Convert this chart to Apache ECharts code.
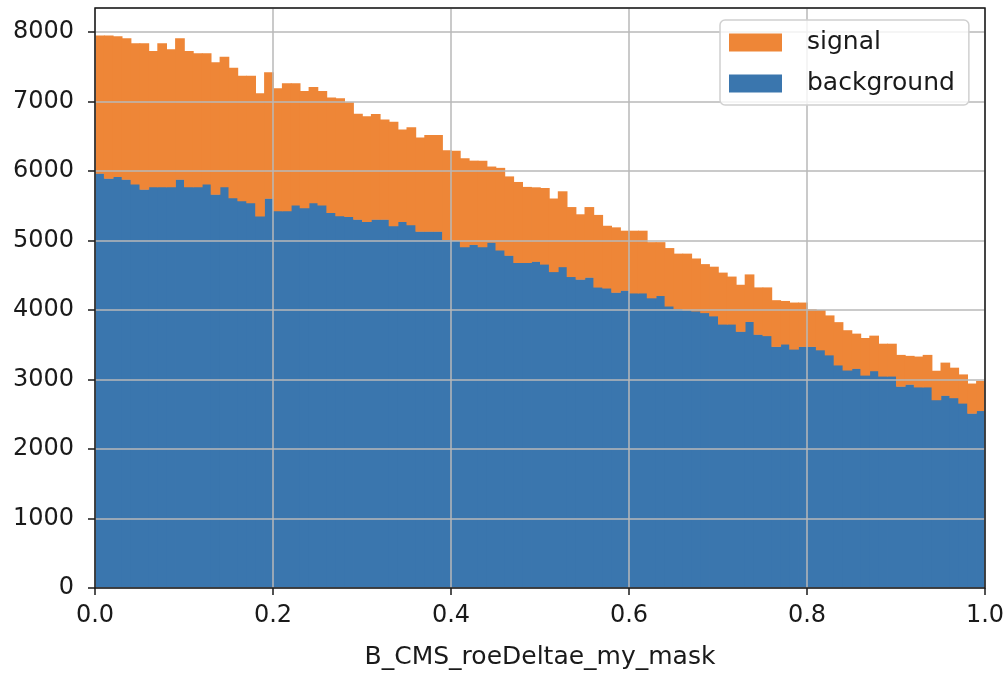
<!DOCTYPE html>
<html>
<head>
<meta charset="utf-8">
<script src="https://cdn.jsdelivr.net/npm/echarts@6/dist/echarts.min.js"></script>
<style>
  html, body { margin: 0; padding: 0; background: #fff; }
  #main { width: 1008px; height: 684px; }
</style>
</head>
<body>
<div id="main"></div>
<script>
// 100 equal bins over [0, 1]: 101 bin edges
var binEdges = [];
for (var i = 0; i <= 100; i++) { binEdges.push(i / 100); }

var xTicks = ['0.0', '0.2', '0.4', '0.6', '0.8', '1.0'];

// counts, bin by bin
var background = [
    5967, 5895, 5920, 5880, 5813, 5737, 5774, 5774, 5774, 5880,
    5774, 5774, 5813, 5665, 5774, 5616, 5573, 5544, 5353, 5607,
    5429, 5429, 5511, 5472, 5544, 5511, 5402, 5355, 5345, 5307,
    5274, 5307, 5307, 5213, 5274, 5227, 5132, 5132, 5132, 5014,
    5000, 4910, 4943, 4910, 4976, 4863, 4787, 4683, 4683, 4700,
    4660, 4552, 4623, 4481, 4443, 4472, 4330, 4316, 4255, 4283,
    4245, 4245, 4175, 4208, 4057, 4019, 4000, 3986, 3962, 3915,
    3797, 3797, 3693, 3835, 3650, 3631, 3476, 3510, 3437, 3476,
    3476, 3427, 3354, 3209, 3136, 3160, 3063, 3126, 3049, 3049,
    2903, 2932, 2893, 2893, 2709, 2772, 2738, 2660, 2515, 2553
];
var signal = [
    1983, 2055, 2020, 2030, 2024, 2100, 1953, 2063, 1976, 2030,
    1953, 1919, 1880, 1900, 1871, 1871, 1798, 1827, 1765, 1813,
    1761, 1833, 1751, 1679, 1666, 1640, 1655, 1692, 1645, 1518,
    1513, 1513, 1433, 1494, 1324, 1404, 1348, 1386, 1386, 1286,
    1291, 1272, 1206, 1239, 1088, 1182, 1135, 1159, 1088, 1065,
    1095, 1052, 1085, 1000, 934, 1009, 1038, 896, 934, 858,
    896, 896, 801, 768, 834, 792, 811, 755, 698, 708,
    741, 684, 670, 677, 675, 694, 665, 620, 670, 631,
    534, 573, 568, 616, 573, 500, 534, 505, 466, 466,
    451, 408, 437, 461, 417, 471, 432, 413, 427, 428
];

// [left edge, right edge, base, count] per bin; signal sits on top of background
var bgData = background.map(function (v, i) {
    return [binEdges[i], binEdges[i + 1], 0, v];
});
var sigData = signal.map(function (v, i) {
    return [binEdges[i], binEdges[i + 1], background[i], v];
});

// one filled bin per item, a hair wider so neighbouring bins leave no seams
function renderBin(params, api) {
    var lo = api.value(2);
    var hi = lo + api.value(3);
    var p0 = api.coord([api.value(0), hi]);
    var p1 = api.coord([api.value(1), lo]);
    return {
        type: 'rect',
        shape: { x: p0[0], y: p0[1], width: p1[0] - p0[0] + 0.8, height: p1[1] - p0[1] + 0.5 },
        style: { fill: api.visual('color') }
    };
}

var chart = echarts.init(document.getElementById('main'));
var font = 'DejaVu Sans';
var gridColor = '#b8b8b8';

var option = {
    animation: false,
    grid: {
        left: 95, right: 23, top: 8, bottom: 96,
        show: true, borderColor: '#1a1a1a', borderWidth: 1.5,
        backgroundColor: 'transparent', z: 5
    },
    legend: {
        data: ['signal', 'background'],
        orient: 'vertical',
        left: 720, top: 20,
        padding: [10, 14, 9, 9],
        itemWidth: 53, itemHeight: 18, itemGap: 16,
        icon: 'rect',
        backgroundColor: 'rgba(255,255,255,0.8)',
        borderColor: '#d0d0d0', borderWidth: 1.5, borderRadius: 5,
        textStyle: { fontFamily: font, fontSize: 25, color: '#1a1a1a', padding: [0, 0, 0, 20] },
        z: 10
    },
    xAxis: {
        type: 'value',
        min: 0, max: 1, interval: 0.2,
        z: 3,
        axisLine: { show: false },
        axisTick: { show: true, length: 7, lineStyle: { color: '#1a1a1a', width: 1.5 } },
        axisLabel: {
            margin: 16, fontFamily: font, fontSize: 24, color: '#1a1a1a',
            formatter: function (v) { return xTicks[Math.round(v * 5)]; }
        },
        splitLine: { show: true, lineStyle: { color: gridColor, width: 1.5 } },
        name: 'B_CMS_roeDeltae_my_mask',
        nameLocation: 'middle',
        nameGap: 57,
        nameTextStyle: { fontFamily: font, fontSize: 25, color: '#1a1a1a' }
    },
    yAxis: {
        type: 'value',
        min: 0, max: 8345, interval: 1000,
        z: 3,
        axisLine: { show: false },
        axisTick: { show: true, length: 7, lineStyle: { color: '#1a1a1a', width: 1.5 } },
        axisLabel: {
            margin: 21, fontFamily: font, fontSize: 24, color: '#1a1a1a', showMaxLabel: false,
            formatter: function (v) { return String(v); }
        },
        splitLine: { show: true, lineStyle: { color: gridColor, width: 1.5 } }
    },
    series: [{
        name: 'background',
        type: 'custom',
        renderItem: renderBin,
        clip: true,
        color: '#3a76ae',
        encode: { x: [0, 1], y: [2, 3] },
        data: bgData
    }, {
        name: 'signal',
        type: 'custom',
        renderItem: renderBin,
        clip: true,
        color: '#ee8637',
        encode: { x: [0, 1], y: [2, 3] },
        data: sigData
    }]
};

chart.setOption(option);
</script>
</body>
</html>
